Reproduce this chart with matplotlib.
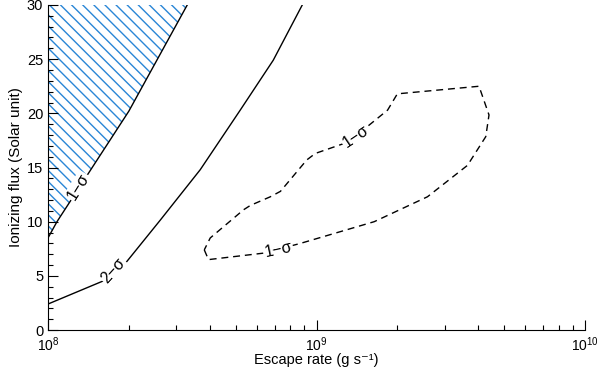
import matplotlib
matplotlib.use("Agg")
import matplotlib.pyplot as plt
from matplotlib.ticker import MultipleLocator, LogLocator, NullFormatter

plt.rcParams["font.family"] = ["Liberation Sans", "DejaVu Sans"]
plt.rcParams["hatch.linewidth"] = 1.0

# hatched 1-sigma boundary (escape rate, flux)
hatch_x = [1.0e8, 1.08e8, 2.0e8, 3.3e8]
hatch_y = [8.5, 10.0, 20.2, 30.0]

# 2-sigma curve
two_x = [1.0e8, 1.63e8, 1.94e8, 2.62e8, 3.69e8, 5.2e8, 6.9e8, 8.85e8]
two_y = [2.4, 4.6, 6.15, 10.15, 14.8, 20.3, 24.9, 30.0]

# dashed 1-sigma closed contour
loop_x = [3.82e8, 3.96e8, 6.36e8, 8.72e8, 1.64e9, 2.59e9, 3.65e9, 4.27e9, 4.39e9,
          4.03e9, 2.0e9, 1.84e9, 1.55e9, 1.26e9, 9.9e8, 9.2e8, 7.34e8, 6.73e8,
          5.67e8, 5.35e8, 4.02e8, 3.82e8]
loop_y = [7.4, 6.5, 7.1, 8.0, 10.0, 12.3, 15.2, 17.85, 19.85,
          22.5, 21.8, 20.3, 18.8, 17.2, 16.3, 15.7, 12.8, 12.3,
          11.5, 11.1, 8.5, 7.4]

# contour labels: (x, y, text, angle)
labels = [(1.3e8, 13.2, "1\u2212\u03c3", 58),
          (1.75e8, 5.5, "2\u2212\u03c3", 48),
          (7.2e8, 7.4, "1\u2212\u03c3", 12),
          (1.4e9, 17.85, "1\u2212\u03c3", 34)]

fig = plt.figure(figsize=(6, 3.7), dpi=100)
ax = fig.add_axes([0.08, 0.108, 0.895, 0.8785])

blue = "#2a86d6"
ax.fill_betweenx(hatch_y, 1e8, hatch_x, facecolor="none", edgecolor=blue,
                 hatch="\\\\\\", linewidth=0)
ax.plot(hatch_x, hatch_y, color="black", lw=1.0)
ax.plot(two_x, two_y, color="black", lw=1.0)
ax.plot(loop_x, loop_y, color="black", lw=1.0, ls=(0, (5, 3.5)))

for x, y, t, a in labels:
    ax.text(x, y, t, rotation=a, ha="center", va="center", fontsize=11.5,
            rotation_mode="anchor",
            bbox=dict(facecolor="white", edgecolor="none", pad=0.8))

ax.set_xscale("log")
ax.set_xlim(1e8, 1e10)
ax.set_ylim(0, 30)
ax.spines["top"].set_visible(False)
ax.spines["right"].set_visible(False)
ax.spines["left"].set_linewidth(0.8)
ax.spines["bottom"].set_linewidth(0.8)

ax.yaxis.set_major_locator(MultipleLocator(5))
ax.yaxis.set_minor_locator(MultipleLocator(1))
ax.xaxis.set_major_locator(LogLocator(base=10, numticks=5))
ax.xaxis.set_minor_locator(LogLocator(base=10, subs=range(2, 10), numticks=20))
ax.xaxis.set_minor_formatter(NullFormatter())
ax.tick_params(which="major", direction="in", length=7, width=0.8, labelsize=10.5)
ax.tick_params(axis="x", which="major", pad=3.5, labelsize=10)
ax.tick_params(axis="y", which="major", pad=3.5)
ax.tick_params(which="minor", direction="in", length=3.5, width=0.8)

ax.set_xlabel("Escape rate (g s\u207b\u00b9)", fontsize=10.5, va="center")
ax.xaxis.set_label_coords(0.5, -0.093)
ax.set_ylabel("Ionizing flux (Solar unit)", fontsize=11, labelpad=3)

fig.savefig("out.png", dpi=100)
